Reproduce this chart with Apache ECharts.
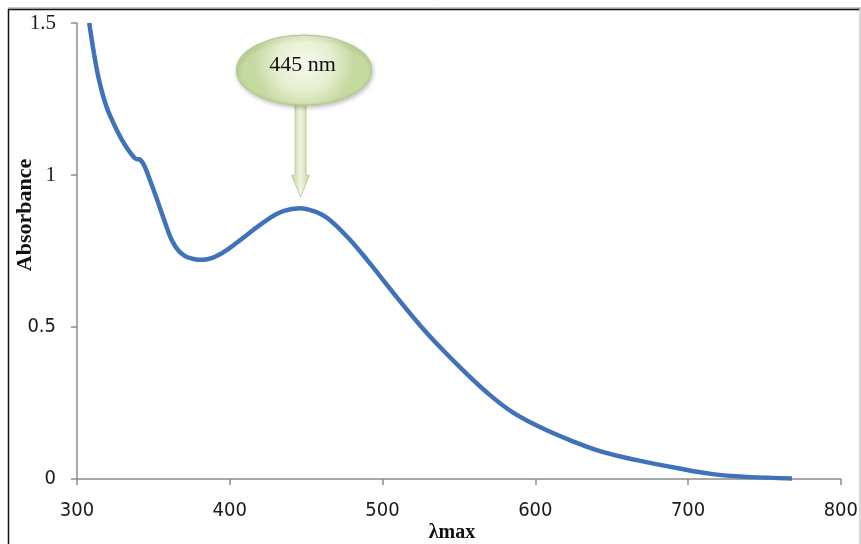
<!DOCTYPE html>
<html>
<head>
<meta charset="utf-8">
<script src="https://cdn.jsdelivr.net/npm/echarts@6/dist/echarts.min.js"></script>
<style>
html,body{margin:0;padding:0;background:#fff;}
#main{width:861px;height:544px;}
</style>
</head>
<body>
<div id="main"></div>
<script>
// Wavelength (nm) and absorbance
const wavelengths = [308, 309.5, 311, 312.5, 314, 316, 318, 320, 322.5, 326, 329.5, 333.6, 336.5, 339, 341, 343, 345, 348, 352, 356.5, 361, 364, 367, 370, 373, 377, 381, 385, 390, 398, 411, 424, 435, 446, 455, 464, 477, 490, 509, 524.5, 537.6, 552.6, 568, 585, 603, 622.6, 644, 666.5, 692.7, 716, 738, 768];
const absorbance  = [1.50, 1.45, 1.403, 1.36, 1.322, 1.28, 1.245, 1.215, 1.186, 1.148, 1.115, 1.082, 1.063, 1.052, 1.051, 1.04, 1.02, 0.98, 0.925, 0.86, 0.797, 0.768, 0.748, 0.736, 0.728, 0.723, 0.721, 0.723, 0.730, 0.753, 0.802, 0.851, 0.881, 0.891, 0.881, 0.858, 0.796, 0.72, 0.60, 0.506, 0.434, 0.358, 0.286, 0.220, 0.171, 0.128, 0.089, 0.062, 0.036, 0.016, 0.007, 0.002];
const xTicks = [300, 400, 500, 600, 700, 800];
const yTicks = [0, 0.5, 1, 1.5];
const peakLabel = '445 nm';
const peakWavelength = 445;
const peakAbsorbance = 0.891;
const xTitle = 'λmax';
const yTitle = 'Absorbance';

const seriesData = wavelengths.map((w, i) => [w, absorbance[i]]);

const chart = echarts.init(document.getElementById('main'));
const option = {
  backgroundColor: '#ffffff',
  animation: false,
  grid: { left: 77, right: 20, top: 23, bottom: 65 },
  xAxis: {
    type: 'value',
    min: xTicks[0], max: xTicks[xTicks.length - 1], interval: 100,
    splitLine: { show: false },
    axisLine: { show: true, lineStyle: { color: '#8c8c8c', width: 1.5 } },
    axisTick: { show: true, length: 6, lineStyle: { color: '#8c8c8c', width: 1.5 } },
    axisLabel: { margin: 22, color: '#1a1a1a', fontSize: 20,
      fontFamily: '"Liberation Sans Narrow","DejaVu Sans Condensed",sans-serif' }
  },
  yAxis: {
    type: 'value',
    min: yTicks[0], max: yTicks[yTicks.length - 1], interval: 0.5,
    splitLine: { show: false },
    axisLine: { show: true, lineStyle: { color: '#8c8c8c', width: 1.5 } },
    axisTick: { show: true, length: 6, lineStyle: { color: '#8c8c8c', width: 1.5 } },
    axisLabel: {
      margin: 21,
      formatter: v => (v === 1 || v === 1.5) ? '{s|' + v + '}' : '{n|' + v + '}',
      rich: {
        s: { fontFamily: '"Liberation Serif","Times New Roman",serif', fontSize: 21, color: '#1a1a1a' },
        n: { fontFamily: '"Liberation Sans Narrow","DejaVu Sans Condensed",sans-serif', fontSize: 20, color: '#1a1a1a' }
      }
    }
  },
  series: [{
    type: 'line',
    data: seriesData,
    smooth: 0.4,
    showSymbol: false,
    lineStyle: { color: '#3f72b9', width: 4.5 },
    z: 3
  }]
};
chart.setOption(option);

// Annotation and frame
const anchor = chart.convertToPixel('grid', [peakWavelength, peakAbsorbance]);
const ax = anchor[0] + 2;
const tipY = anchor[1] - 11;
const greenFill = new echarts.graphic.RadialGradient(0.5, 0.4, 0.7, [
  { offset: 0, color: '#f6f9ec' },
  { offset: 0.55, color: '#e6efd0' },
  { offset: 1, color: '#c6d9a0' }
]);
const arrowFill = new echarts.graphic.LinearGradient(0, 0, 1, 0, [
  { offset: 0, color: '#bfd395' },
  { offset: 0.5, color: '#f0f5e2' },
  { offset: 1, color: '#bfd395' }
]);
chart.setOption({
  graphic: [
    { type: 'polygon', z: 10,
      shape: { points: [
        [ax - 5.5, tipY - 94], [ax + 5.5, tipY - 94], [ax + 5.5, tipY - 22], [ax + 9, tipY - 22],
        [ax, tipY], [ax - 9, tipY - 22], [ax - 5.5, tipY - 22]
      ] },
      style: { fill: arrowFill, stroke: '#b3c98a', lineWidth: 0.8 } },
    { type: 'ellipse', z: 11,
      shape: { cx: ax + 3.5, cy: tipY - 127, rx: 67.5, ry: 35 },
      style: { fill: greenFill, stroke: '#b5cb8a', lineWidth: 1.2,
        shadowBlur: 4, shadowColor: 'rgba(0,0,0,0.22)', shadowOffsetX: 1, shadowOffsetY: 2 } },
    { type: 'text', z: 12,
      style: { text: peakLabel, x: ax + 2, y: tipY - 132, align: 'center', verticalAlign: 'middle',
        font: '22px "Liberation Serif","Times New Roman",serif', fill: '#111' } },
    { type: 'text', z: 12,
      style: { text: xTitle, x: 452, y: 533, align: 'center', verticalAlign: 'middle',
        font: 'bold 20px "Liberation Serif","Times New Roman",serif', fill: '#111' } },
    { type: 'text', z: 12, x: 25, y: 215, rotation: Math.PI / 2,
      style: { text: yTitle, x: 0, y: 0, align: 'center', verticalAlign: 'middle',
        font: 'bold 22px "Liberation Serif","Times New Roman",serif', fill: '#111' } },
    { type: 'line', z: 20, shape: { x1: 8, y1: 8, x2: 861, y2: 8 }, style: { stroke: '#9a9a9a', lineWidth: 1 } },
    { type: 'line', z: 20, shape: { x1: 8, y1: 9.5, x2: 860, y2: 9.5 }, style: { stroke: '#111', lineWidth: 1.5 } },
    { type: 'line', z: 20, shape: { x1: 8.5, y1: 9, x2: 8.5, y2: 544 }, style: { stroke: '#111', lineWidth: 1.5 } },
    { type: 'line', z: 20, shape: { x1: 860, y1: 9, x2: 860, y2: 544 }, style: { stroke: '#c8c8c8', lineWidth: 1.5 } }
  ]
});
</script>
</body>
</html>
